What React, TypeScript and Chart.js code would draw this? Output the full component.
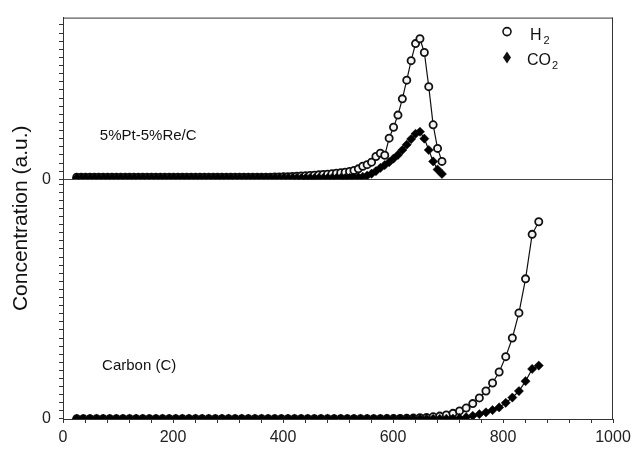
import React, { useEffect, useRef } from 'react';
import { Chart, registerables } from 'chart.js';

Chart.register(...registerables);

const FONT = '"Liberation Sans", Arial, Helvetica, sans-serif';

// ---- Top panel: 5%Pt-5%Re/C ----
const topTemps = [
  25, 33, 41, 49, 57, 65, 73, 81, 89, 97,
  105, 113, 121, 129, 137, 145, 153, 161, 169, 177,
  185, 193, 201, 209, 217, 225, 233, 241, 249, 257,
  265, 273, 281, 289, 297, 305, 313, 321, 329, 337,
  345, 353, 361, 369, 377, 385, 393, 401, 409, 417,
  425, 433, 441, 449, 457, 465, 473, 481, 489, 497,
  505, 513, 521, 529, 537, 545, 553, 561, 569, 577,
  585, 593, 601, 609, 617, 625, 633, 641, 649, 657,
  665, 673, 681, 689,
];
const topH2 = [
  0.25, 0.25, 0.25, 0.25, 0.25, 0.25, 0.25, 0.25, 0.25, 0.25,
  0.25, 0.25, 0.25, 0.25, 0.25, 0.25, 0.25, 0.25, 0.25, 0.25,
  0.25, 0.25, 0.25, 0.25, 0.25, 0.25, 0.25, 0.25, 0.25, 0.25,
  0.25, 0.25, 0.25, 0.25, 0.25, 0.25, 0.25, 0.25, 0.25, 0.25,
  0.25, 0.25, 0.25, 0.25, 0.26, 0.27, 0.28, 0.3, 0.32, 0.34,
  0.37, 0.4, 0.43, 0.47, 0.5, 0.54, 0.58, 0.63, 0.68, 0.74,
  0.8, 0.86, 0.95, 1.08, 1.28, 1.6, 1.8, 2.1, 2.8, 3.2,
  2.95, 5.06, 6.4, 7.9, 9.9, 12.2, 14.6, 16.7, 17.3, 15.6,
  11.4, 6.7, 3.8, 2.2,
];
const topCO2 = [
  0.15, 0.15, 0.15, 0.15, 0.15, 0.15, 0.15, 0.15, 0.15, 0.15,
  0.15, 0.15, 0.15, 0.15, 0.15, 0.15, 0.15, 0.15, 0.15, 0.15,
  0.15, 0.15, 0.15, 0.15, 0.15, 0.15, 0.15, 0.15, 0.15, 0.15,
  0.15, 0.15, 0.15, 0.15, 0.15, 0.15, 0.15, 0.15, 0.15, 0.15,
  0.15, 0.15, 0.15, 0.15, 0.15, 0.15, 0.15, 0.15, 0.15, 0.15,
  0.15, 0.15, 0.15, 0.15, 0.15, 0.15, 0.15, 0.15, 0.15, 0.15,
  0.15, 0.15, 0.17, 0.2, 0.25, 0.3, 0.45, 0.68, 1.0, 1.4,
  1.75, 2.1, 2.55, 3.0, 3.6, 4.25, 4.95, 5.6, 5.85, 5.0,
  3.6, 2.2, 1.2, 0.65,
];

// ---- Bottom panel: Carbon (C) ----
const botTemps = [
  25, 37, 49, 61, 73, 85, 97, 109, 121, 133,
  145, 157, 169, 181, 193, 205, 217, 229, 241, 253,
  265, 277, 289, 301, 313, 325, 337, 349, 361, 373,
  385, 397, 409, 421, 433, 445, 457, 469, 481, 493,
  505, 517, 529, 541, 553, 565, 577, 589, 601, 613,
  625, 637, 649, 661, 673, 685, 697, 709, 721, 733,
  745, 757, 769, 781, 793, 805, 817, 829, 841, 853,
  865,
];
const botH2 = [
  0.03, 0.03, 0.03, 0.03, 0.03, 0.03, 0.03, 0.03, 0.03, 0.03,
  0.03, 0.03, 0.03, 0.03, 0.03, 0.03, 0.03, 0.03, 0.03, 0.03,
  0.03, 0.03, 0.03, 0.03, 0.03, 0.03, 0.03, 0.03, 0.03, 0.03,
  0.03, 0.03, 0.03, 0.03, 0.03, 0.03, 0.03, 0.03, 0.03, 0.03,
  0.03, 0.03, 0.03, 0.03, 0.03, 0.04, 0.04, 0.05, 0.05, 0.06,
  0.08, 0.11, 0.15, 0.2, 0.27, 0.36, 0.5, 0.7, 1.0, 1.35,
  1.9, 2.6, 3.45, 4.45, 5.8, 7.7, 10.0, 13.1, 17.3, 22.8,
  24.35,
];
const botCO2 = [
  0.03, 0.03, 0.03, 0.03, 0.03, 0.03, 0.03, 0.03, 0.03, 0.03,
  0.03, 0.03, 0.03, 0.03, 0.03, 0.03, 0.03, 0.03, 0.03, 0.03,
  0.03, 0.03, 0.03, 0.03, 0.03, 0.03, 0.03, 0.03, 0.03, 0.03,
  0.03, 0.03, 0.03, 0.03, 0.03, 0.03, 0.03, 0.03, 0.03, 0.03,
  0.03, 0.03, 0.03, 0.03, 0.03, 0.03, 0.03, 0.03, 0.03, 0.03,
  0.03, 0.03, 0.03, 0.03, 0.03, 0.03, 0.03, 0.04, 0.1, 0.22,
  0.4, 0.6, 0.82, 1.1, 1.43, 2.0, 2.65, 3.45, 4.67, 6.18,
  6.59,
];

const xTickLabels = [0, 200, 400, 600, 800, 1000];
const panelLabels = ['5%Pt-5%Re/C', 'Carbon (C)'];
const panelLabelAt = [
  { t: 67, v: 5.4 },
  { t: 71, v: 6.6 },
];
const yTitle = 'Concentration (a.u.)';

const zip = (xs: number[], ys: number[]) => xs.map((x, i) => ({ x, y: ys[i] }));

const decorPlugin = {
  id: 'decor',
  afterDraw(chart: any) {
    const { ctx, chartArea: a, scales } = chart;
    ctx.save();
    ctx.strokeStyle = '#333';
    ctx.lineWidth = 1;
    ctx.beginPath();
    ctx.moveTo(a.left, a.top + 0.5);
    ctx.lineTo(a.right, a.top + 0.5);
    ctx.moveTo(a.right - 0.5, a.top);
    ctx.lineTo(a.right - 0.5, a.bottom);
    ctx.stroke();

    // panel labels
    ctx.fillStyle = '#111';
    ctx.font = `15px ${FONT}`;
    ctx.textAlign = 'left';
    ctx.textBaseline = 'middle';
    ctx.fillText(panelLabels[0], scales.x.getPixelForValue(panelLabelAt[0].t), scales.yTop.getPixelForValue(panelLabelAt[0].v));
    ctx.fillText(panelLabels[1], scales.x.getPixelForValue(panelLabelAt[1].t), scales.yBot.getPixelForValue(panelLabelAt[1].v));

    // legend
    const lx = a.left + 444;
    const ly1 = a.top + 14;
    const ly2 = a.top + 40;
    ctx.lineWidth = 1.6;
    ctx.strokeStyle = '#111';
    ctx.fillStyle = '#fff';
    ctx.beginPath();
    ctx.arc(lx, ly1, 4, 0, Math.PI * 2);
    ctx.fill();
    ctx.stroke();
    ctx.fillStyle = '#111';
    ctx.beginPath();
    ctx.moveTo(lx, ly2 - 6);
    ctx.lineTo(lx + 4, ly2);
    ctx.lineTo(lx, ly2 + 6);
    ctx.lineTo(lx - 4, ly2);
    ctx.closePath();
    ctx.fill();

    ctx.font = `16px ${FONT}`;
    ctx.textBaseline = 'middle';
    ctx.fillText('H', lx + 23, ly1 + 4);
    ctx.fillText('CO', lx + 20, ly2 + 3);
    const wH = ctx.measureText('H').width;
    const wCO = ctx.measureText('CO').width;
    ctx.font = `11px ${FONT}`;
    ctx.fillText('2', lx + 23 + wH + 2, ly1 + 9);
    ctx.fillText('2', lx + 20 + wCO + 1, ly2 + 8);

    // y title
    ctx.translate(21, (a.top + a.bottom) / 2);
    ctx.rotate(-Math.PI / 2);
    ctx.font = `21px ${FONT}`;
    ctx.textAlign = 'center';
    ctx.fillText(yTitle, 0, 0);
    ctx.restore();
  },
};

export default function App() {
  const ref = useRef<HTMLCanvasElement | null>(null);

  useEffect(() => {
    if (!ref.current) return;
    const h2Style = {
      borderColor: '#111',
      borderWidth: 1.2,
      pointStyle: 'circle',
      pointRadius: 3.6,
      pointBorderWidth: 1.8,
      pointBorderColor: '#111',
      pointBackgroundColor: '#f4f4f4',
      showLine: true,
      tension: 0,
    };
    const co2Style = {
      borderColor: '#111',
      borderWidth: 1.2,
      pointStyle: 'rectRot',
      pointRadius: 4.6,
      pointBorderWidth: 0.5,
      pointBorderColor: '#000',
      pointBackgroundColor: '#000',
      showLine: true,
      tension: 0,
    };
    const yCommon = (max: number, weight: number, showZeroLine: boolean) => ({
      type: 'linear',
      position: 'left',
      stack: 'conc',
      stackWeight: weight,
      min: 0,
      max,
      afterFit: (s: any) => {
        s.width = 63;
      },
      ticks: {
        stepSize: 1,
        autoSkip: false,
        includeBounds: false,
        padding: 8,
        color: '#222',
        font: { family: FONT, size: 16 },
        callback: (v: any) => (v === 0 ? '0' : ''),
      },
      grid: {
        drawOnChartArea: true,
        color: (c: any) => (showZeroLine && c.tick && c.tick.value === 0 ? '#444' : 'rgba(0,0,0,0)'),
        tickColor: '#333',
        tickLength: 4,
        lineWidth: 1,
      },
      border: { display: true, color: '#333', width: 1 },
    });

    const chart = new Chart(ref.current, {
      type: 'scatter',
      data: {
        datasets: [
          { label: 'CO2 top', data: zip(topTemps, topCO2), yAxisID: 'yTop', ...co2Style },
          { label: 'H2 top', data: zip(topTemps, topH2), yAxisID: 'yTop', ...h2Style },
          { label: 'CO2 bottom', data: zip(botTemps, botCO2), yAxisID: 'yBot', ...co2Style },
          { label: 'H2 bottom', data: zip(botTemps, botH2), yAxisID: 'yBot', ...h2Style },
        ] as any,
      },
      options: {
        responsive: false,
        animation: false,
        layout: { padding: { top: 13, right: 25, left: 0, bottom: 0 } },
        plugins: { legend: { display: false }, tooltip: { enabled: false } },
        scales: {
          x: {
            type: 'linear',
            min: 0,
            max: 1000,
            afterFit: (s: any) => {
              s.height = 30;
            },
            ticks: {
              stepSize: 40,
              autoSkip: false,
              maxRotation: 0,
              padding: 5,
              color: '#222',
              font: { family: FONT, size: 16 },
              callback: (v: any) => (xTickLabels.includes(v) ? String(v) : ''),
            },
            grid: { drawOnChartArea: false, tickColor: '#333', tickLength: 4 },
            border: { display: true, color: '#333', width: 1 },
          },
          yBot: yCommon(29.6, 242.5, false),
          yTop: yCommon(19.9, 163.5, true),
        } as any,
      },
      plugins: [decorPlugin],
    });
    return () => chart.destroy();
  }, []);

  return (
    <div style={{ position: 'absolute', left: 0, top: 0, width: 638, height: 449, background: '#fff' }}>
      <canvas ref={ref} width={638} height={449} />
    </div>
  );
}
